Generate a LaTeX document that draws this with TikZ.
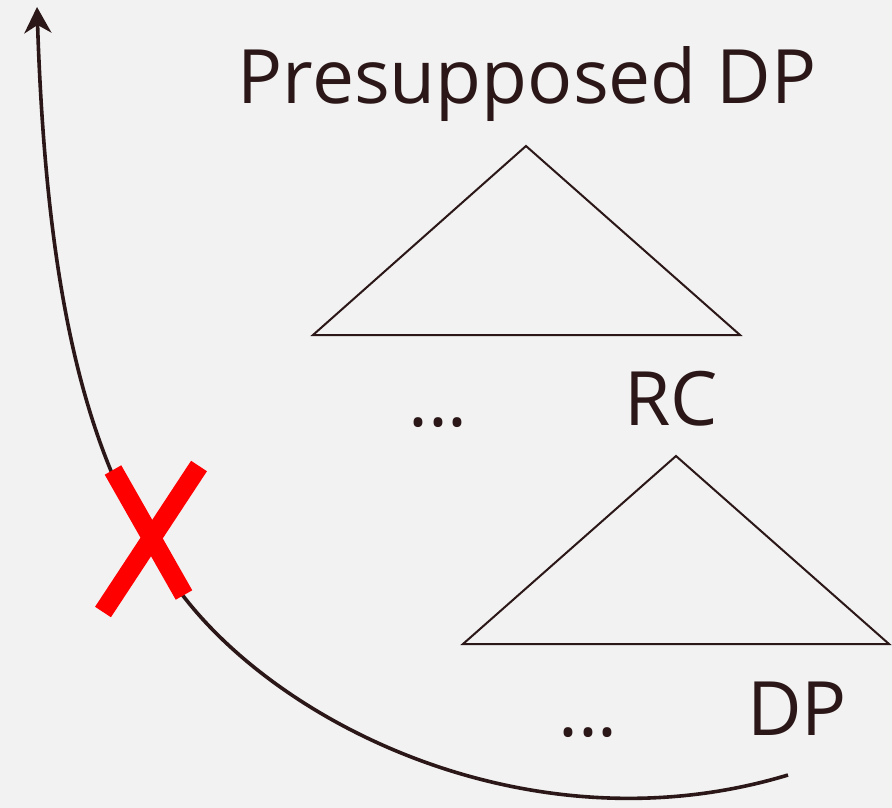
\documentclass[tikz,border=0pt]{standalone}
\usepackage{fontspec}
\setmainfont{Open Sans}
\usepackage{tikz}
\usetikzlibrary{arrows.meta, positioning}

\definecolor{ink}{HTML}{2B1717}
\definecolor{paper}{HTML}{F2F2F2}

\begin{document}
\begin{tikzpicture}[
        x=1pt, y=-1pt,
        label/.style={inner sep=0pt, anchor=base, text=ink, font=\fontsize{75}{78}\selectfont},
        tri/.style={draw=ink, line width=2pt, line join=miter},
        movement/.style={draw=ink, line width=3.6pt, -{Stealth[length=26pt, width=27pt, inset=8pt]}},
        cross/.style={draw=red, line width=19pt, line cap=butt}
    ]
        \useasboundingbox[fill=paper] (0,0) rectangle (892,808);

        % labels
        \node[label] (top) at (527,103) {Presupposed DP};
        \node[label] (rc) at (671,425) {RC};
        \node[label] (dp) at (797,735) {DP};
        \node[label] (dotsa) at (438,426) {...};
        \node[label] (dotsb) at (588,736) {...};

        % triangles
        \coordinate (ta) at (526,146);
        \coordinate (tl) at (313,335);
        \coordinate (tr) at (740,335);
        \coordinate (ba) at (676,456);
        \coordinate (bl) at (463,644);
        \coordinate (br) at (889,644);
        \draw[tri] (ta) -- (tl) -- (tr) -- cycle;
        \draw[tri] (ba) -- (bl) -- (br) -- cycle;

        % movement arrow
        \coordinate (src) at (788,775);
        \coordinate (bend) at (184,597);
        \coordinate (goal) at (37,7);
        \draw[movement] (src) .. controls (540,850) and (289,732) .. (bend)
            .. controls (91,480) and (47,312) .. (goal);

        % blocked
        \coordinate (xa) at (113,470);
        \coordinate (xb) at (184,595);
        \coordinate (xc) at (199,466);
        \coordinate (xd) at (103,612);
        \draw[cross] (xa) -- (xb);
        \draw[cross] (xc) -- (xd);
    \end{tikzpicture}
\end{document}
